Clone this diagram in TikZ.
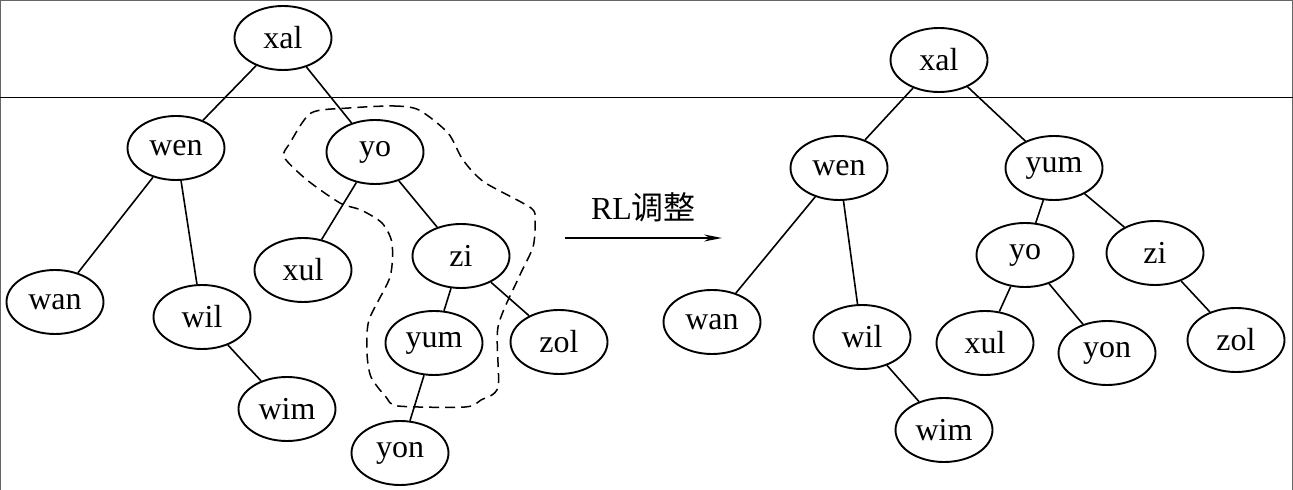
\documentclass[tikz,border=0pt]{standalone}
\usepackage{fontspec}
\setmainfont{Liberation Serif}
\newfontfamily\cjk{Noto Sans CJK SC}
\usepackage{tikz}
\usetikzlibrary{shapes.geometric,arrows.meta}
\tikzstyle{key}=[ellipse,draw,line width=.95pt,minimum width=48.5pt,minimum height=32pt,inner sep=0pt]
\tikzstyle{line}=[black,line width=.8pt]
\tikzstyle{arrow}=[-{Stealth[length=9pt,width=3.5pt]},line width=.9pt]
\tikzstyle{region}=[black,line width=.75pt,dash pattern=on 5pt off 3pt]

\begin{document}
\begin{tikzpicture}[x=.5pt,y=-.5pt,font=\fontsize{16}{19}\selectfont]
	\useasboundingbox (0,0) rectangle (1293,490);

	%frame
	\draw[black!60,line width=.6pt] (0.5,490) -- (0.5,0.5) -- (1292.5,0.5) -- (1292.5,490);
	\draw[line width=.5pt] (0,98) -- (1293,98);

	%left tree
	\node[key] (lxal) at (283,38) {xal};
	\node[key] (lwen) at (176,148) {wen};
	\node[key] (lyo) at (375,152) {yo};
	\node[key] (lwan) at (55,302) {wan};
	\node[key] (lwil) at (202,317) {wil};
	\node[key] (lwim) at (287,409) {wim};
	\node[key] (lxul) at (303,270) {xul};
	\node[key] (lzi) at (461,256) {zi};
	\node[key] (lyum) at (434,343) {yum};
	\node[key] (lzol) at (559,342) {zol};
	\node[key] (lyon) at (400,453) {yon};

	\draw[line] (lxal) -- (lwen);
	\draw[line] (lxal) -- (lyo);
	\draw[line] (lwen) -- (lwan);
	\draw[line] (lwen) -- (lwil);
	\draw[line] (lwil) -- (lwim);
	\draw[line] (lyo) -- (lxul);
	\draw[line] (lyo) -- (lzi);
	\draw[line] (lzi) -- (lyum);
	\draw[line] (lzi) -- (lzol);
	\draw[line] (lyum) -- (lyon);

	%rotated part
	\draw[region] plot[smooth cycle,tension=.45] coordinates {(349,108) (394,106) (419,110)
	(448,133) (463,160) (484,182) (531,208) (535,222) (533,247) (519,277) (498,327)
	(498,387) (481,400) (465,407) (398,406) (386,397) (371,377) (367,353) (369,320)
	(390,277) (392,243) (382,223) (361,210) (340,203) (307,180) (284,157) (290,143)
	(311,113)};

	%arrow
	\coordinate (from) at (565,238);
	\coordinate (to) at (722,238);
	\draw[arrow] (from) -- node[above=4pt] {RL{\cjk 调整}} (to);

	%right tree
	\node[key] (rxal) at (939,60) {xal};
	\node[key] (rwen) at (839,168) {wen};
	\node[key] (ryum) at (1054,168) {yum};
	\node[key] (rwan) at (712,322) {wan};
	\node[key] (rwil) at (862,337) {wil};
	\node[key] (rwim) at (944,430) {wim};
	\node[key] (ryo) at (1025,255) {yo};
	\node[key] (rzi) at (1155,253) {zi};
	\node[key] (rxul) at (985,343) {xul};
	\node[key] (ryon) at (1107,353) {yon};
	\node[key] (rzol) at (1236,340) {zol};

	\draw[line] (rxal) -- (rwen);
	\draw[line] (rxal) -- (ryum);
	\draw[line] (rwen) -- (rwan);
	\draw[line] (rwen) -- (rwil);
	\draw[line] (rwil) -- (rwim);
	\draw[line] (ryum) -- (ryo);
	\draw[line] (ryum) -- (rzi);
	\draw[line] (ryo) -- (rxul);
	\draw[line] (ryo) -- (ryon);
	\draw[line] (rzi) -- (rzol);
\end{tikzpicture}
\end{document}
